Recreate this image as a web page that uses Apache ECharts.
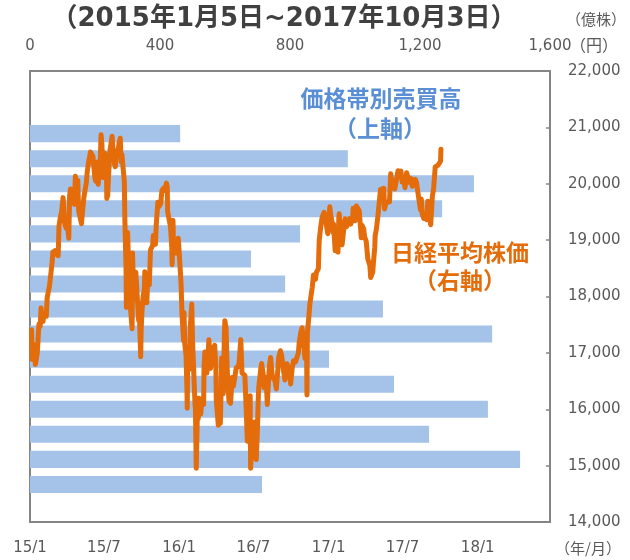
<!DOCTYPE html>
<html lang="ja">
<head>
<meta charset="utf-8">
<title>価格帯別売買高と日経平均株価</title>
<script src="https://cdn.jsdelivr.net/npm/echarts@6/dist/echarts.min.js"></script>
<style>
  html, body { margin: 0; padding: 0; background: #fff; }
  #chart { width: 630px; height: 560px; }
</style>
</head>
<body>
<div id="chart"></div>
<script>
// price bands, top (high price) to bottom; empty bands carry null
var bandNames = ['b01','b02','b03','b04','b05','b06','b07','b08','b09','b10','b11','b12','b13','b14','b15','b16','b17','b18'];
// volume per band (億株)
var bandVolume = [null, null, 462, 978, 1366, 1268, 831, 680, 785, 1086, 1422, 920, 1120, 1409, 1228, 1508, 714, null];

var dateTicks = ['2015-01-01', '2015-07-01', '2016-01-01', '2016-07-01', '2017-01-01', '2017-07-01', '2018-01-01'];

// 日経平均株価 (円)
var nikkei = [
  ['2015-01-05',17408],['2015-01-06',16883],['2015-01-08',17167],['2015-01-09',17197],['2015-01-13',17087],
  ['2015-01-14',16795],['2015-01-16',16864],['2015-01-19',17014],['2015-01-21',17280],['2015-01-23',17511],
  ['2015-01-26',17468],['2015-01-28',17795],['2015-01-30',17674],['2015-02-02',17558],['2015-02-04',17678],
  ['2015-02-06',17648],['2015-02-10',17652],['2015-02-12',17979],['2015-02-16',18004],['2015-02-18',18199],
  ['2015-02-20',18332],['2015-02-24',18603],['2015-02-26',18785],['2015-02-27',18797],['2015-03-03',18815],
  ['2015-03-05',18751],['2015-03-09',18790],['2015-03-11',18723],['2015-03-13',19254],['2015-03-17',19437],
  ['2015-03-19',19476],['2015-03-23',19754],['2015-03-25',19746],['2015-03-27',19285],['2015-03-31',19206],
  ['2015-04-02',19312],['2015-04-06',19035],['2015-04-08',19789],['2015-04-10',19907],['2015-04-14',19908],
  ['2015-04-16',19885],['2015-04-20',19634],['2015-04-22',20133],['2015-04-24',20020],['2015-04-28',20058],
  ['2015-04-30',19520],['2015-05-01',19531],['2015-05-07',19291],['2015-05-11',19620],['2015-05-13',19765],
  ['2015-05-15',19732],['2015-05-19',20026],['2015-05-21',20202],['2015-05-25',20413],['2015-05-27',20472],
  ['2015-05-29',20563],['2015-06-02',20543],['2015-06-04',20488],['2015-06-08',20457],['2015-06-09',20096],
  ['2015-06-11',20046],['2015-06-15',20387],['2015-06-17',19990],['2015-06-19',19990],['2015-06-22',20428],
  ['2015-06-24',20868],['2015-06-26',20706],['2015-06-29',20110],['2015-07-01',20329],['2015-07-03',20539],
  ['2015-07-07',20376],['2015-07-08',19737],['2015-07-09',19855],['2015-07-10',19779],['2015-07-14',20385],
  ['2015-07-16',20600],['2015-07-21',20841],['2015-07-24',20544],['2015-07-27',20350],['2015-07-29',20302],
  ['2015-07-31',20585],['2015-08-04',20520],['2015-08-07',20724],['2015-08-10',20808],['2015-08-12',20392],
  ['2015-08-14',20519],['2015-08-18',20554],['2015-08-20',20033],['2015-08-21',19435],['2015-08-24',18540],
  ['2015-08-25',17806],['2015-08-27',18574],['2015-08-28',19136],['2015-09-01',18165],['2015-09-04',17792],
  ['2015-09-08',17427],['2015-09-09',18770],['2015-09-11',18264],['2015-09-14',17965],['2015-09-17',18432],
  ['2015-09-24',17571],['2015-09-25',17880],['2015-09-29',16930],['2015-09-30',17388],['2015-10-02',17725],
  ['2015-10-05',18005],['2015-10-08',18141],['2015-10-09',18438],['2015-10-14',17891],['2015-10-16',18291],
  ['2015-10-20',18207],['2015-10-23',18825],['2015-10-28',18903],['2015-10-30',19083],['2015-11-04',18926],
  ['2015-11-06',19265],['2015-11-10',19671],['2015-11-13',19596],['2015-11-17',19649],['2015-11-20',19879],
  ['2015-11-24',19924],['2015-11-27',19883],['2015-12-01',20012],['2015-12-03',19939],['2015-12-04',19504],
  ['2015-12-08',19492],['2015-12-11',19230],['2015-12-14',18883],['2015-12-15',18565],['2015-12-17',19353],
  ['2015-12-18',18986],['2015-12-22',18886],['2015-12-25',18769],['2015-12-28',18873],['2015-12-30',19033],
  ['2016-01-04',18450],['2016-01-06',18191],['2016-01-08',17697],['2016-01-12',17218],['2016-01-13',17715],
  ['2016-01-15',17147],['2016-01-18',16955],['2016-01-20',16416],['2016-01-21',16017],['2016-01-22',16958],
  ['2016-01-26',16708],['2016-01-29',17518],['2016-02-01',17865],['2016-02-03',17191],['2016-02-05',16819],
  ['2016-02-09',16085],['2016-02-10',16002],['2016-02-12',14952],['2016-02-15',16022],['2016-02-17',15836],
  ['2016-02-18',16196],['2016-02-23',15916],['2016-02-26',16188],['2016-03-01',16085],['2016-03-02',16747],
  ['2016-03-04',17015],['2016-03-09',16642],['2016-03-14',17233],['2016-03-18',16725],['2016-03-22',17048],
  ['2016-03-28',17135],['2016-03-31',16759],['2016-04-01',16164],['2016-04-06',15715],['2016-04-08',15821],
  ['2016-04-11',15751],['2016-04-13',16381],['2016-04-14',16911],['2016-04-18',16276],['2016-04-21',17364],
  ['2016-04-22',17572],['2016-04-25',17440],['2016-04-28',16666],['2016-05-02',16147],['2016-05-06',16106],
  ['2016-05-10',16565],['2016-05-13',16412],['2016-05-18',16645],['2016-05-20',16736],['2016-05-25',16757],
  ['2016-05-27',16835],['2016-05-31',17235],['2016-06-03',16642],['2016-06-07',16675],['2016-06-10',16601],
  ['2016-06-14',15859],['2016-06-16',15434],['2016-06-20',15965],['2016-06-23',16238],['2016-06-24',14952],
  ['2016-06-27',15309],['2016-06-30',15576],['2016-07-04',15775],['2016-07-06',15379],['2016-07-08',15107],
  ['2016-07-11',15708],['2016-07-13',16231],['2016-07-14',16386],['2016-07-19',16723],['2016-07-21',16810],
  ['2016-07-25',16620],['2016-07-27',16383],['2016-07-29',16569],['2016-08-02',16391],['2016-08-04',16084],
  ['2016-08-05',16254],['2016-08-09',16764],['2016-08-12',16919],['2016-08-16',16596],['2016-08-19',16545],
  ['2016-08-23',16497],['2016-08-26',16360],['2016-08-30',16725],['2016-09-01',16926],['2016-09-05',17037],
  ['2016-09-08',16958],['2016-09-13',16672],['2016-09-16',16519],['2016-09-21',16807],['2016-09-23',16754],
  ['2016-09-27',16683],['2016-09-30',16449],['2016-10-04',16735],['2016-10-07',16860],['2016-10-12',16840],
  ['2016-10-14',16856],['2016-10-19',16998],['2016-10-21',17184],['2016-10-25',17365],['2016-10-28',17446],
  ['2016-11-01',17442],['2016-11-04',16905],['2016-11-08',17171],['2016-11-09',16251],['2016-11-10',17344],
  ['2016-11-14',17673],['2016-11-16',17862],['2016-11-18',17967],['2016-11-22',18162],['2016-11-25',18381],
  ['2016-11-30',18308],['2016-12-02',18426],['2016-12-07',18496],['2016-12-09',18996],['2016-12-13',19250],
  ['2016-12-16',19401],['2016-12-21',19494],['2016-12-23',19427],['2016-12-27',19403],['2016-12-30',19114],
  ['2017-01-04',19594],['2017-01-06',19454],['2017-01-10',19301],['2017-01-12',19134],['2017-01-13',19287],
  ['2017-01-17',18813],['2017-01-20',19137],['2017-01-24',18787],['2017-01-26',19402],['2017-01-27',19467],
  ['2017-01-31',19041],['2017-02-03',18918],['2017-02-07',18910],['2017-02-10',19378],['2017-02-14',19238],
  ['2017-02-17',19234],['2017-02-21',19381],['2017-02-24',19283],['2017-03-01',19393],['2017-03-02',19564],
  ['2017-03-07',19344],['2017-03-10',19604],['2017-03-13',19633],['2017-03-17',19521],['2017-03-22',19041],
  ['2017-03-24',19262],['2017-03-28',19202],['2017-03-30',19063],['2017-04-03',18983],['2017-04-07',18664],
  ['2017-04-12',18552],['2017-04-14',18335],['2017-04-17',18355],['2017-04-19',18432],['2017-04-21',18620],
  ['2017-04-24',18875],['2017-04-25',19079],['2017-04-28',19196],['2017-05-02',19445],['2017-05-08',19895],
  ['2017-05-12',19883],['2017-05-16',19919],['2017-05-18',19553],['2017-05-22',19679],['2017-05-26',19686],
  ['2017-05-30',19677],['2017-06-02',20177],['2017-06-06',19979],['2017-06-09',20013],['2017-06-12',19908],
  ['2017-06-14',19883],['2017-06-16',19943],['2017-06-20',20230],['2017-06-23',20153],['2017-06-27',20225],
  ['2017-06-30',20033],['2017-07-04',20081],['2017-07-07',19929],['2017-07-11',20195],['2017-07-14',20118],
  ['2017-07-19',20020],['2017-07-21',20099],['2017-07-25',19955],['2017-07-28',19959],['2017-08-01',20080],
  ['2017-08-04',20029],['2017-08-08',20055],['2017-08-10',19729],['2017-08-14',19537],['2017-08-16',19729],
  ['2017-08-18',19470],['2017-08-22',19383],['2017-08-25',19452],['2017-08-29',19362],['2017-09-01',19691],
  ['2017-09-05',19385],['2017-09-08',19274],['2017-09-12',19776],['2017-09-15',19909],['2017-09-19',20299],
  ['2017-09-22',20296],['2017-09-26',20330],['2017-09-29',20356],['2017-10-02',20400],['2017-10-03',20614]
];

function ts(d) { return Date.UTC(+d.slice(0, 4), +d.slice(5, 7) - 1, +d.slice(8, 10)); }

var chart = echarts.init(document.getElementById('chart'), null, { renderer: 'canvas' });

var CJK = '"Noto Sans CJK JP", "Noto Sans", sans-serif';
var NUM = '"DejaVu Sans", "Noto Sans CJK JP", sans-serif';
var GRAY = '#595959';
var AXIS = '#858585';

function label(text, x, y, font, fill) {
  return {
    type: 'text', x: x, y: y,
    style: { text: text, font: font, fill: fill, align: 'center', verticalAlign: 'middle' }
  };
}

var option = {
  animation: false,
  textStyle: { fontFamily: CJK },
  grid: { left: 30, right: 80, top: 71, bottom: 38 },
  xAxis: [
    {
      // dates as UTC timestamps on a plain value axis
      type: 'value',
      position: 'bottom',
      min: ts('2015-01-01'),
      max: ts('2018-06-27'),
      axisLine: { show: true, lineStyle: { color: AXIS, width: 2 } },
      axisTick: { show: false },
      splitLine: { show: false },
      axisLabel: {
        customValues: dateTicks.map(ts),
        color: GRAY,
        fontFamily: NUM,
        fontSize: 15,
        margin: 19,
        formatter: function (v) {
          var d = new Date(v);
          return String(d.getUTCFullYear()).slice(2) + '/' + (d.getUTCMonth() + 1);
        }
      }
    },
    {
      type: 'value',
      position: 'top',
      min: 0,
      max: 1600,
      interval: 400,
      axisLine: { show: true, lineStyle: { color: AXIS, width: 2 } },
      axisTick: { show: false },
      splitLine: { show: false },
      axisLabel: {
        color: GRAY,
        fontFamily: NUM,
        fontSize: 15,
        margin: 17,
        formatter: function (v) { return v.toLocaleString('en-US'); }
      }
    }
  ],
  yAxis: [
    {
      type: 'category',
      position: 'left',
      inverse: true,
      data: bandNames,
      axisLine: { show: true, lineStyle: { color: AXIS, width: 2 } },
      axisTick: { show: false },
      axisLabel: { show: false },
      splitLine: { show: false }
    },
    {
      type: 'value',
      position: 'right',
      min: 14000,
      max: 22000,
      interval: 1000,
      axisLine: { show: true, lineStyle: { color: AXIS, width: 2 } },
      axisTick: { show: true, inside: true, length: 4, lineStyle: { color: AXIS, width: 1.5 } },
      splitLine: { show: false },
      axisLabel: {
        color: GRAY,
        fontFamily: NUM,
        fontSize: 15,
        margin: 18,
        formatter: function (v) { return v.toLocaleString('en-US'); }
      }
    }
  ],
  series: [
    {
      name: '価格帯別売買高',
      type: 'bar',
      xAxisIndex: 1,
      yAxisIndex: 0,
      data: bandVolume,
      barCategoryGap: '32%',
      itemStyle: { color: '#a5c3e8' },
      z: 1
    },
    {
      name: '日経平均株価',
      type: 'line',
      xAxisIndex: 0,
      yAxisIndex: 1,
      data: nikkei.map(function (p) { return [ts(p[0]), p[1]]; }),
      showSymbol: false,
      lineStyle: { color: '#e46c0a', width: 5, join: 'round', cap: 'round' },
      itemStyle: { color: '#e46c0a' },
      z: 3
    }
  ],
  graphic: [
    label('（2015年1月5日~2017年10月3日）', 284, 19, 'bold 26px ' + NUM, '#404040'),
    label('（億株）', 596, 19, '15px ' + CJK, GRAY),
    label('（円）', 594, 45, '16px ' + CJK, GRAY),
    label('（年/月）', 588, 548, '15px ' + CJK, GRAY),
    label('価格帯別売買高', 381, 98, 'bold 23px ' + CJK, '#5a8fd6'),
    label('（上軸）', 380, 128, 'bold 23px ' + CJK, '#5a8fd6'),
    label('日経平均株価', 460, 252, 'bold 23px ' + CJK, '#e46c0a'),
    label('（右軸）', 460, 280, 'bold 23px ' + CJK, '#e46c0a')
  ]
};

chart.setOption(option);
</script>
</body>
</html>
